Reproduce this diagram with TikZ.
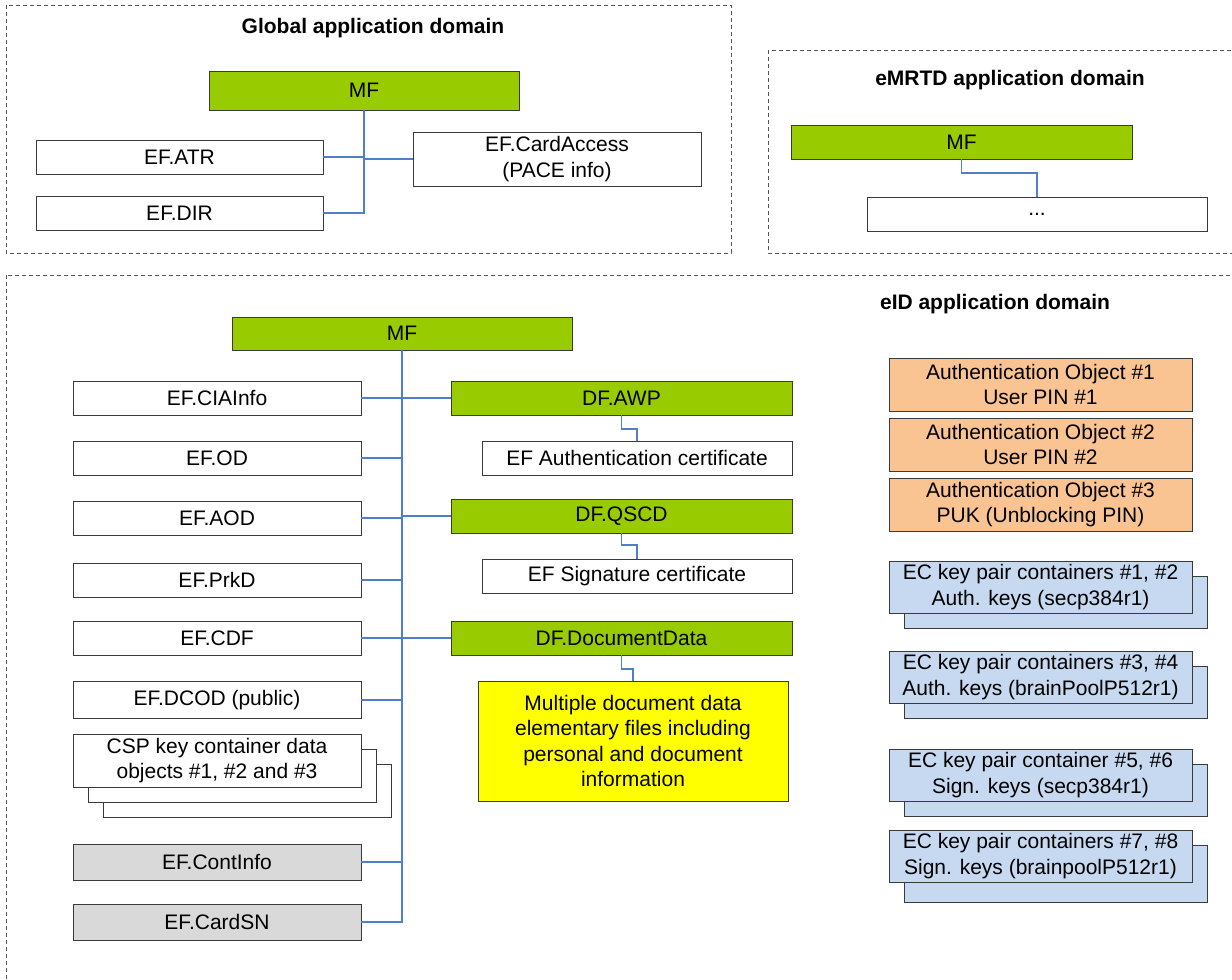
\documentclass[tikz,border=0pt]{standalone}
\usepackage{fontspec}
\setmainfont{Liberation Sans}
\usetikzlibrary{backgrounds}
\definecolor{mfgreen}{HTML}{99CC00}
\definecolor{aoorange}{HTML}{FAC392}
\definecolor{ecblue}{HTML}{C6D9F0}
\definecolor{lgray}{HTML}{D9D9D9}
\definecolor{docyellow}{HTML}{FFFF00}
\definecolor{bordergray}{HTML}{3A3A3A}
\definecolor{connblue}{HTML}{4F7FCC}
\definecolor{dashgray}{HTML}{555555}
\newcommand{\dfont}{\fontsize{21}{25.5}\selectfont}
\tikzset{
  base/.style={draw=bordergray, line width=1pt, inner sep=0pt, outer sep=0pt, align=center, font=\dfont},
  sz/.style 2 args={minimum width=#1pt, minimum height=#2pt},
  wbox/.style={base, fill=white},
  gbox/.style={base, fill=mfgreen},
  obox/.style={base, fill=aoorange},
  bbox/.style={base, fill=ecblue},
  greybox/.style={base, fill=lgray},
  ybox/.style={base, fill=docyellow},
  shw/.style={draw=bordergray, line width=1pt},
  conn/.style={draw=connblue, line width=1.5pt},
  domframe/.style={draw=dashgray, line width=1pt, dash pattern=on 4pt off 3pt},
  dtitle/.style={font=\dfont\bfseries, inner sep=0pt}
}
\begin{document}
\begin{tikzpicture}[x=1pt,y=-1pt]
\path[use as bounding box] (0,0) rectangle (1232,980);
\clip (0,0) rectangle (1232,980);
% domains
\draw[domframe] (6,5) rectangle (731,253);
\node[dtitle] (tglobal) at (373,28) {Global application domain};
\draw[domframe] (768,50) rectangle (1262,253);
\node[dtitle] (temrtd) at (1010,80) {eMRTD application domain};
\draw[domframe] (6,275) rectangle (1262,1010);
\node[dtitle] (teid) at (995,304) {eID application domain};
% global
\node[gbox, sz={310}{39}] (mfa) at (364,90.5) {MF};
\node[wbox, sz={287}{34}] (atr) at (179.5,157) {EF.ATR};
\node[wbox, sz={287}{34}] (dir) at (179.5,213) {EF.DIR};
\node[wbox, sz={288}{54}] (cacc) at (557,159) {EF.CardAccess\\(PACE info)};
\draw[conn] (mfa.south) -- (mfa.south |- dir.east) -- (dir.east);
\draw[conn] (atr.east) -- (atr.east -| mfa.south);
\draw[conn] (cacc.west -| mfa.south) -- (cacc.west);
% eMRTD
\node[gbox, sz={341}{34}] (mfb) at (961.5,142) {MF};
\node[wbox, sz={340}{34}] (dots) at (1037,214) {...};
\draw[conn] (mfb.south) -- ++(0,14) -| (dots.north);
% eID
\node[gbox, sz={340}{33}] (mfc) at (402,333.5) {MF};
\node[wbox, sz={288}{34}] (cia) at (217,398) {EF.CIAInfo};
\node[wbox, sz={288}{34}] (od) at (217,458) {EF.OD};
\node[wbox, sz={288}{34}] (aod) at (217,518) {EF.AOD};
\node[wbox, sz={288}{34}] (prkd) at (217,580) {EF.PrkD};
\node[wbox, sz={288}{34}] (cdf) at (217,638) {EF.CDF};
\node[wbox, sz={288}{37}] (dcod) at (217,700) {EF.DCOD (public)};
\node[wbox, sz={288}{53}] (csp) at (217,760.5) {CSP key container data\\objects \#1, \#2 and \#3};
\node[greybox, sz={288}{36}] (cinfo) at (217,862) {EF.ContInfo};
\node[greybox, sz={288}{36}] (csn) at (217,922) {EF.CardSN};
\node[gbox, sz={341}{34}] (awp) at (621.5,398) {DF.AWP};
\node[wbox, sz={310}{34}] (acert) at (637,458) {EF Authentication certificate};
\node[gbox, sz={341}{34}] (qscd) at (621.5,516) {DF.QSCD};
\node[wbox, sz={310}{34}] (scert) at (637,576) {EF Signature certificate};
\node[gbox, sz={341}{34}] (ddata) at (621.5,638) {DF.DocumentData};
\node[ybox, sz={310}{120}] (multi) at (633,741) {Multiple document data\\elementary files including\\personal and document\\information};
% right column
\node[obox, sz={303}{53}] (ao1) at (1040.5,384.5) {Authentication Object \#1\\User PIN \#1};
\node[obox, sz={303}{53}] (ao2) at (1040.5,444.5) {Authentication Object \#2\\User PIN \#2};
\node[obox, sz={303}{53}] (ao3) at (1040.5,504.5) {Authentication Object \#3\\PUK (Unblocking PIN)};
\node[bbox, sz={303}{52}] (ec1) at (1040.5,587) {EC key pair containers \#1, \#2\\Auth. keys (secp384r1)};
\node[bbox, sz={303}{52}] (ec2) at (1040.5,677) {EC key pair containers \#3, \#4\\Auth. keys (brainPoolP512r1)};
\node[bbox, sz={303}{52}] (ec3) at (1040.5,775) {EC key pair container \#5, \#6\\Sign. keys (secp384r1)};
\node[bbox, sz={303}{52}] (ec4) at (1040.5,856) {EC key pair containers \#7, \#8\\Sign. keys (brainpoolP512r1)};
% stacked copies
\begin{scope}[on background layer]
  \draw[shw, fill=white] ([shift={(30,30)}]csp.north west) rectangle ([shift={(30,30)}]csp.south east);
  \draw[shw, fill=white] ([shift={(15,15)}]csp.north west) rectangle ([shift={(15,15)}]csp.south east);
  \foreach \e in {ec1,ec2,ec3}{
    \draw[shw, fill=ecblue] ([shift={(15,15)}]\e.north west) rectangle ([shift={(15,15)}]\e.south east);
  }
  \draw[shw, fill=ecblue] ([shift={(15,15)}]ec4.north west) rectangle ([shift={(15,20)}]ec4.south east);
\end{scope}
% eID connectors
\draw[conn] (mfc.south) -- (mfc.south |- csn.east) -- (csn.east);
\foreach \n in {cia,od,aod,prkd,cdf,dcod,cinfo}{
  \draw[conn] (\n.east) -- (\n.east -| mfc.south);
}
\draw[conn] (mfc.south |- awp.west) -- (awp.west);
\draw[conn] (mfc.south |- qscd.west) -- (qscd.west);
\draw[conn] (mfc.south |- ddata.west) -- (ddata.west);
\draw[conn] (awp.south) -- ++(0,14) -| (acert.north);
\draw[conn] (qscd.south) -- ++(0,12) -| (scert.north);
\draw[conn] (ddata.south) -- ++(0,14) -| (multi.north);
\end{tikzpicture}
\end{document}
